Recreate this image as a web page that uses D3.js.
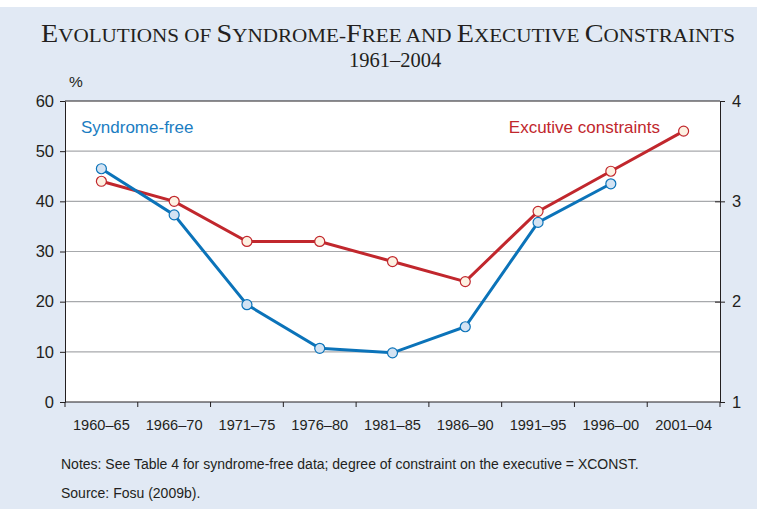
<!DOCTYPE html>
<html>
<head>
<meta charset="utf-8">
<script src="https://cdn.jsdelivr.net/npm/d3@7"></script>
<style>
  body { margin: 0; background: #fff; }
  svg text { font-family: "Liberation Sans", Arial, sans-serif; }
</style>
</head>
<body>
<svg id="chart" width="757" height="509"></svg>
<script>
const periods = ['1960–65', '1966–70', '1971–75', '1976–80', '1981–85', '1986–90', '1991–95', '1996–00', '2001–04'];
// syndrome-free, % (left axis)
const syndromeFree = [46.5, 37.3, 19.4, 10.7, 9.8, 15.0, 35.8, 43.5, null];
// executive constraints, XCONST (right axis)
const execConstraints = [3.2, 3.0, 2.6, 2.6, 2.4, 2.2, 2.9, 3.3, 3.7];
const leftTicks = [0, 10, 20, 30, 40, 50, 60];
const rightTicks = [1, 2, 3, 4];

const svg = d3.select('#chart');
const W = 757, H = 509;
const m = { left: 65, right: 720, top: 101, bottom: 402 };

const blue = '#0b73b9', red = '#c1272d', ink = '#231f20';

svg.append('rect').attr('x', 0).attr('y', 7).attr('width', W).attr('height', H - 7).attr('fill', '#e1e9f4');
svg.append('rect').attr('x', m.left).attr('y', m.top).attr('width', m.right - m.left).attr('height', m.bottom - m.top).attr('fill', '#fff');

// title in small caps, built from tspans
const titleStr = 'Evolutions of Syndrome-Free and Executive Constraints';
const title = svg.append('text')
  .attr('x', 388).attr('y', 42)
  .attr('text-anchor', 'middle')
  .style('font-family', '"Liberation Serif", "Times New Roman", serif')
  .attr('fill', ink);
titleStr.split(/(?=[A-Z])|(?<=[A-Z])/).forEach(part => {
  const big = /^[A-Z]$/.test(part);
  title.append('tspan')
    .style('font-size', big ? '26px' : '19.5px')
    .text(part.toUpperCase());
});
title.attr('textLength', 694).attr('lengthAdjust', 'spacingAndGlyphs');

svg.append('text')
  .attr('x', 395).attr('y', 67)
  .attr('text-anchor', 'middle')
  .style('font-family', '"Liberation Serif", "Times New Roman", serif')
  .style('font-size', '20.5px')
  .attr('fill', ink)
  .text('1961–2004');

const x = d3.scaleBand().domain(periods).range([m.left, m.right]);
const yL = d3.scaleLinear().domain([0, 60]).range([m.bottom, m.top]);
const yR = d3.scaleLinear().domain([1, 4]).range([m.bottom, m.top]);

// gridlines
svg.append('g').selectAll('line').data(leftTicks.filter(d => d > 0 && d < 60)).join('line')
  .attr('x1', m.left).attr('x2', m.right)
  .attr('y1', d => yL(d)).attr('y2', d => yL(d))
  .attr('stroke', '#a7a9ac').attr('stroke-width', 1.2);
// top frame
svg.append('line').attr('x1', m.left).attr('x2', m.right).attr('y1', m.top).attr('y2', m.top)
  .attr('stroke', ink).attr('stroke-width', 1);

const tickStyle = g => {
  g.select('.domain').attr('stroke', ink);
  g.selectAll('.tick line').attr('stroke', ink);
  g.selectAll('.tick text').attr('fill', ink)
    .style('font-family', '"Liberation Sans", Arial, sans-serif')
    .style('font-size', '16.5px');
};

svg.append('g').attr('transform', `translate(${m.left},0)`)
  .call(d3.axisLeft(yL).tickValues(leftTicks).tickSize(5).tickPadding(6).tickSizeOuter(0))
  .call(tickStyle);

svg.append('g').attr('transform', `translate(${m.right},0)`)
  .call(d3.axisRight(yR).tickValues(rightTicks).tickFormat(d3.format('d')).tickSize(5).tickPadding(7).tickSizeOuter(0))
  .call(tickStyle)
  .call(g => g.selectAll('.tick line').attr('x1', d => (d === 2 || d === 3) ? -5 : 0));

// bottom axis with band-boundary ticks
const xb = svg.append('g').attr('transform', `translate(0,${m.bottom})`);
xb.append('line').attr('x1', m.left).attr('x2', m.right).attr('stroke', ink);
xb.selectAll('line.t').data(d3.range(periods.length + 1)).join('line').attr('class', 't')
  .attr('x1', i => m.left + i * x.step()).attr('x2', i => m.left + i * x.step())
  .attr('y1', 0).attr('y2', 5).attr('stroke', ink);
xb.selectAll('text').data(periods).join('text')
  .attr('x', d => x(d) + x.bandwidth() / 2).attr('y', 28)
  .attr('text-anchor', 'middle')
  .style('font-size', '14.6px').attr('fill', ink)
  .text(d => d);

svg.append('text').attr('x', 69).attr('y', 87).style('font-size', '15.5px').attr('fill', ink).text('%');

const cx = d => x(d) + x.bandwidth() / 2;

// lines
const redData = periods.map((p, i) => ({ p, v: execConstraints[i] })).filter(d => d.v != null);
const blueData = periods.map((p, i) => ({ p, v: syndromeFree[i] })).filter(d => d.v != null);

svg.append('path').datum(redData)
  .attr('d', d3.line().x(d => cx(d.p)).y(d => yR(d.v)))
  .attr('fill', 'none').attr('stroke', red).attr('stroke-width', 3);
svg.append('path').datum(blueData)
  .attr('d', d3.line().x(d => cx(d.p)).y(d => yL(d.v)))
  .attr('fill', 'none').attr('stroke', blue).attr('stroke-width', 3);

svg.append('g').selectAll('circle').data(redData).join('circle')
  .attr('cx', d => cx(d.p)).attr('cy', d => yR(d.v)).attr('r', 5)
  .attr('fill', '#fdf1e2').attr('stroke', red).attr('stroke-width', 1.2);
svg.append('g').selectAll('circle').data(blueData).join('circle')
  .attr('cx', d => cx(d.p)).attr('cy', d => yL(d.v)).attr('r', 5)
  .attr('fill', '#d3e3f3').attr('stroke', blue).attr('stroke-width', 1.2);

// labels
svg.append('text').attr('x', 81).attr('y', 133).style('font-size', '17px').attr('fill', '#1a7dc2').text('Syndrome-free');
svg.append('text').attr('x', 660).attr('y', 133).attr('text-anchor', 'end').style('font-size', '17px').attr('fill', red).text('Excutive constraints');

// notes
svg.append('text').attr('x', 61).attr('y', 469).style('font-size', '14px').attr('fill', ink)
  .text('Notes: See Table 4 for syndrome-free data; degree of constraint on the executive = XCONST.');
svg.append('text').attr('x', 61).attr('y', 498).style('font-size', '14px').attr('fill', ink)
  .text('Source: Fosu (2009b).');
</script>
</body>
</html>
